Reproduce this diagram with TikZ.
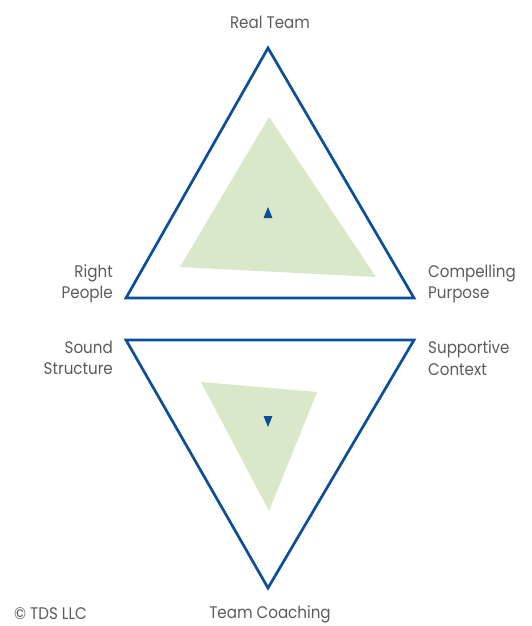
\documentclass[tikz,border=0pt]{standalone}
\usepackage{fontspec}
\setmainfont{Poppins}
\begin{document}
\begin{tikzpicture}[x=1pt,y=-1pt,
  frame/.style={draw=tdsblue,line width=2.7pt,line join=miter},
  inner/.style={fill=tdsgreen},
  marker/.style={fill=tdsblue},
  lbl/.style={text=tdsgray,font=\fontsize{16.8}{21.5}\selectfont\addfontfeatures{FakeStretch=0.9},inner sep=0pt,align=#1},
  lbl/.default=center]
\definecolor{tdsblue}{HTML}{0D4F96}
\definecolor{tdsgreen}{HTML}{D9E8C9}
\definecolor{tdsgray}{HTML}{5C5C5C}
\useasboundingbox[fill=white] (0,0) rectangle (531,626);

% outer triangles
\coordinate (apex) at (268,48);
\coordinate (rp) at (126,298);
\coordinate (cp) at (414,298);
\coordinate (ss) at (126,340);
\coordinate (sc) at (414,340);
\coordinate (tc) at (268,588);

% shaded inner triangles
\fill[inner] (269,117) -- (180,267) -- (376,277) -- cycle;
\fill[inner] (201,382) -- (317,392) -- (269,511) -- cycle;

\draw[frame] (apex) -- (rp) -- (cp) -- cycle;
\draw[frame] (ss) -- (sc) -- (tc) -- cycle;

% direction markers
\fill[marker] (268,207) -- (263.5,218) -- (272.5,218) -- cycle;
\fill[marker] (263.5,416) -- (272.5,416) -- (268,427) -- cycle;

% labels
\node[lbl] (realteam) at (270,22) {Real Team};
\node[lbl=right,anchor=east] (rightpeople) at (113,284) {Right\\People};
\node[lbl=left,anchor=west] (purpose) at (428,284) {Compelling\\Purpose};
\node[lbl=right,anchor=east] (structure) at (113,358) {Sound\\Structure};
\node[lbl=left,anchor=west] (context) at (428,358) {Supportive\\Context};
\node[lbl] (coaching) at (270,614) {Team Coaching};
\node[lbl,anchor=west] (copyright) at (14,614) {© TDS LLC};
\end{tikzpicture}
\end{document}
